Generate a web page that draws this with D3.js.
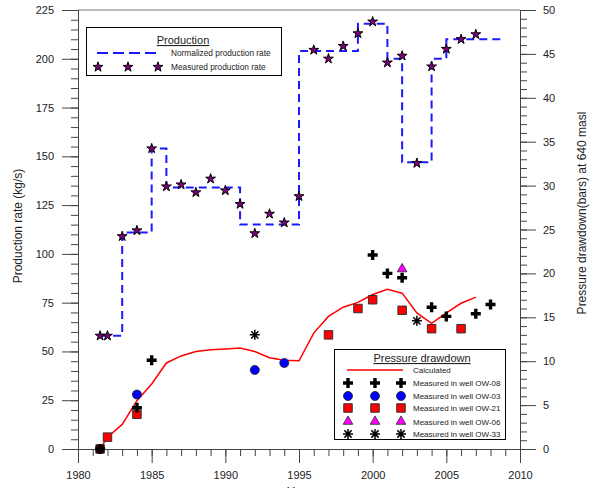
<!DOCTYPE html>
<html>
<head>
<meta charset="utf-8">
<script src="https://cdn.jsdelivr.net/npm/d3@7"></script>
<style>
  body { margin: 0; background: #fff; }
  svg { font-family: "Liberation Sans", Arial, sans-serif; }
</style>
</head>
<body>
<script>
// production (left axis, kg/s)
const normYears = [1981.5, 1983, 1985, 1986, 1991, 1995, 1999, 2001, 2002, 2004, 2005, 2009];
const normRate = [58, 111, 154, 134, 115, 204, 218, 200, 147, 200, 210, 210];
const measYears = [1981.5, 1982, 1983, 1984, 1985, 1986, 1987, 1988, 1989, 1990, 1991, 1992, 1993, 1994,
  1995, 1996, 1997, 1998, 1999, 2000, 2001, 2002, 2003, 2004, 2005, 2006, 2007];
const measRate = [58, 58, 109, 112, 154, 134.5, 135.5, 131.5, 138.5, 132.5, 125.5, 110.5, 120.5, 116,
  129.5, 204.5, 200, 206.5, 213, 219, 198, 201.5, 146.5, 196, 205, 210, 212.5];

// pressure drawdown (right axis, bars)
const calcYears = measYears;
const calcDrawdown = [0, 1.35, 2.8, 5.5, 7.4, 9.8, 10.6, 11.1, 11.3, 11.4, 11.5, 11.1, 10.4, 10.1,
  10.05, 13.2, 15.1, 16.15, 16.7, 17.6, 18.2, 17.75, 15.5, 14.3, 15.5, 16.6, 17.3];
const ow08Years = [1981.5, 1984, 1985, 2000, 2001, 2002, 2004, 2005, 2007, 2008];
const ow08 = [0, 4.7, 10.1, 22.1, 20.0, 19.5, 16.15, 15.1, 15.4, 16.45];
const ow03Years = [1984, 1992, 1994];
const ow03 = [6.2, 9.0, 9.8];
const ow21Years = [1981.5, 1982, 1984, 1997, 1999, 2000, 2002, 2004, 2006];
const ow21 = [0, 1.35, 3.95, 13.0, 16.0, 17.0, 15.8, 13.7, 13.7];
const ow06Years = [2002];
const ow06 = [20.5];
const ow33Years = [1981.5, 1992, 2003];
const ow33 = [0, 13.0, 14.6];

const xTicks = [1980, 1985, 1990, 1995, 2000, 2005, 2010];
const leftTicks = [0, 25, 50, 75, 100, 125, 150, 175, 200, 225];
const rightTicks = [0, 5, 10, 15, 20, 25, 30, 35, 40, 45, 50];

const width = 593, height = 488;
const axisCol = "#444";

const svg = d3.select("body").append("svg")
  .attr("width", width)
  .attr("height", height);

const x = d3.scaleLinear().domain([1980, 2010]).range([78, 520]);
const yL = d3.scaleLinear().domain([0, 225]).range([449, 10]);
const yR = d3.scaleLinear().domain([0, 50]).range([449, 10]);

// minor ticks first
svg.append("g").attr("transform", "translate(0,449)")
  .call(d3.axisBottom(x).tickValues(d3.range(1980, 2011)).tickSize(7).tickFormat(""));
svg.append("g").attr("transform", "translate(78,0)")
  .call(d3.axisLeft(yL).tickValues(d3.range(0, 226, 5)).tickSize(7).tickFormat(""));
svg.append("g").attr("transform", "translate(520,0)")
  .call(d3.axisRight(yR).tickValues(d3.range(0, 51)).tickSize(7).tickFormat(""));

svg.append("g").attr("transform", "translate(0,449)")
  .call(d3.axisBottom(x).tickValues(xTicks).tickSize(14).tickPadding(8).tickFormat(d3.format("d")));
svg.append("g").attr("transform", "translate(78,0)")
  .call(d3.axisLeft(yL).tickValues(leftTicks).tickSize(16).tickPadding(8));
svg.append("g").attr("transform", "translate(520,0)")
  .call(d3.axisRight(yR).tickValues(rightTicks).tickSize(16).tickPadding(7));

svg.selectAll(".domain, .tick line").attr("stroke", axisCol);
svg.selectAll(".tick text").attr("font-size", 11).attr("fill", "#222")
  .attr("font-family", "Liberation Sans, Arial, sans-serif");

// top frame
svg.append("line").attr("x1", x(1980)).attr("x2", x(2010))
  .attr("y1", yL(225)).attr("y2", yL(225)).attr("stroke", "#777");

// axis titles
svg.append("text").attr("transform", "translate(22,226) rotate(-90)")
  .attr("text-anchor", "middle").attr("font-size", 12).attr("fill", "#222")
  .text("Production rate (kg/s)");
svg.append("text").attr("transform", "translate(586,213) rotate(-90)")
  .attr("text-anchor", "middle").attr("font-size", 12).attr("fill", "#222")
  .text("Pressure drawdown(bars) at 640 masl");
svg.append("text").attr("x", 299).attr("y", 496)
  .attr("text-anchor", "middle").attr("font-size", 12).attr("fill", "#222")
  .text("Year");

// normalized production rate (step)
const norm = normYears.map((d, i) => [d, normRate[i]]);
svg.append("path").datum(norm)
  .attr("fill", "none").attr("stroke", "#1a1aff").attr("stroke-width", 2)
  .attr("stroke-dasharray", "8,5")
  .attr("d", d3.line().x(d => x(d[0])).y(d => yL(d[1])).curve(d3.curveStepAfter));

// calculated drawdown
const calc = calcYears.map((d, i) => [d, calcDrawdown[i]]);
svg.append("path").datum(calc)
  .attr("fill", "none").attr("stroke", "#ff0000").attr("stroke-width", 1.5)
  .attr("d", d3.line().x(d => x(d[0])).y(d => yR(d[1])));

// marker drawing helpers
const starPath = d3.symbol().type(d3.symbolStar).size(30)();
const circlePath = d3.symbol().type(d3.symbolCircle).size(64)();
const squarePath = d3.symbol().type(d3.symbolSquare).size(72)();
const triPath = d3.symbol().type(d3.symbolTriangle).size(40)();
const plusPath = "M-5,0H5M0,-5V5";
const astPath = "M-5,0H5M0,-5V5M-3.6,-3.6L3.6,3.6M-3.6,3.6L3.6,-3.6";

function drawMarker(g, kind, cx, cy) {
  const t = `translate(${cx},${cy})`;
  if (kind === "star") g.append("path").attr("d", starPath).attr("transform", t)
    .attr("fill", "#800080").attr("stroke", "#000").attr("stroke-width", 1);
  if (kind === "circle") g.append("path").attr("d", circlePath).attr("transform", t)
    .attr("fill", "#0000ff").attr("stroke", "#222").attr("stroke-width", 0.8);
  if (kind === "square") g.append("path").attr("d", squarePath).attr("transform", t)
    .attr("fill", "#ff0000").attr("stroke", "#333").attr("stroke-width", 1);
  if (kind === "tri") g.append("path").attr("d", triPath).attr("transform", t)
    .attr("fill", "#ff00ff").attr("stroke", "#222").attr("stroke-width", 0.8);
  if (kind === "plus") g.append("path").attr("d", plusPath).attr("transform", t)
    .attr("fill", "none").attr("stroke", "#000").attr("stroke-width", 3.4);
  if (kind === "ast") g.append("path").attr("d", astPath).attr("transform", t)
    .attr("fill", "none").attr("stroke", "#000").attr("stroke-width", 1.5);
}

const marks = svg.append("g");
measYears.forEach((d, i) => drawMarker(marks, "star", x(d), yL(measRate[i])));
ow21Years.forEach((d, i) => drawMarker(marks, "square", x(d), yR(ow21[i])));
ow03Years.forEach((d, i) => drawMarker(marks, "circle", x(d), yR(ow03[i])));
ow08Years.forEach((d, i) => drawMarker(marks, "plus", x(d), yR(ow08[i])));
ow06Years.forEach((d, i) => drawMarker(marks, "tri", x(d), yR(ow06[i])));
ow33Years.forEach((d, i) => drawMarker(marks, "ast", x(d), yR(ow33[i])));

// production legend
const lg1 = svg.append("g");
lg1.append("rect").attr("x", 86.5).attr("y", 27.5).attr("width", 195).attr("height", 48)
  .attr("fill", "#fff").attr("stroke", "#000");
lg1.append("text").attr("x", 183).attr("y", 44).attr("text-anchor", "middle")
  .attr("font-size", 11).attr("text-decoration", "underline").attr("fill", "#222").text("Production");
lg1.append("line").attr("x1", 97).attr("x2", 159).attr("y1", 53).attr("y2", 53)
  .attr("stroke", "#1a1aff").attr("stroke-width", 2).attr("stroke-dasharray", "11,5");
lg1.append("text").attr("x", 171).attr("y", 56).attr("font-size", 8.3).attr("fill", "#222")
  .text("Normalized production rate");
[98, 128, 158].forEach(cx => drawMarker(lg1, "star", cx, 67));
lg1.append("text").attr("x", 171).attr("y", 70).attr("font-size", 8.3).attr("fill", "#222")
  .text("Measured production rate");

// pressure legend
const lg2 = svg.append("g");
lg2.append("rect").attr("x", 334.5).attr("y", 349.5).attr("width", 171).attr("height", 90)
  .attr("fill", "#fff").attr("stroke", "#000");
lg2.append("text").attr("x", 422).attr("y", 362).attr("text-anchor", "middle")
  .attr("font-size", 11).attr("text-decoration", "underline").attr("fill", "#222").text("Pressure drawdown");
lg2.append("line").attr("x1", 347).attr("x2", 403).attr("y1", 370).attr("y2", 370)
  .attr("stroke", "#ff0000").attr("stroke-width", 1.5);
lg2.append("text").attr("x", 413).attr("y", 373).attr("font-size", 8).attr("fill", "#222").text("Calculated");
const rows = [
  ["plus", "Measured in well OW-08", 383],
  ["circle", "Measured in well OW-03", 396],
  ["square", "Measured in well OW-21", 408],
  ["tri", "Measured in well OW-06", 421.5],
  ["ast", "Measured in well OW-33", 434]
];
rows.forEach(r => {
  [348, 375, 401].forEach(cx => drawMarker(lg2, r[0], cx, r[2]));
  lg2.append("text").attr("x", 413).attr("y", r[2] + 3).attr("font-size", 8).attr("fill", "#222").text(r[1]);
});
</script>
</body>
</html>
